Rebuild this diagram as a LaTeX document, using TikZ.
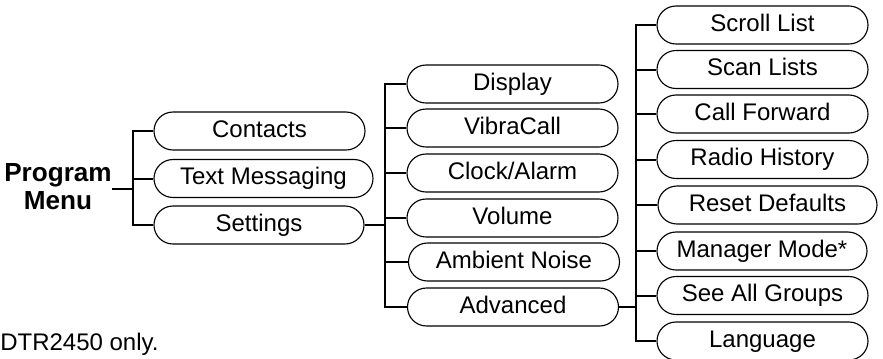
\documentclass[tikz,border=0pt]{standalone}
\usepackage{fontspec}
\setmainfont{Liberation Sans}
\newfontfamily\boxfam{Liberation Sans}
\begin{document}
\begin{tikzpicture}[x=0.75pt,y=-0.75pt,
  pill/.style={draw, line width=0.85pt, rounded corners=14.25pt,
    minimum height=28.5pt, minimum width=#1*0.75pt, inner sep=0pt,
    font=\boxfam\fontsize{18}{20}\selectfont, text height=14.3pt, text depth=4.6pt},
  conn/.style={line width=1.5pt},
  plain/.style={inner sep=0pt}]
\useasboundingbox (0,0) rectangle (883,358);
% level 0
\node[plain, align=center, font=\bfseries\fontsize{19.6}{21}\selectfont] (pm) at (58,187) {Program\\Menu};
% level 1
\node[pill=211] (contacts) at (259.5,131) {Contacts};
\node[pill=219] (textmsg) at (263.5,178.5) {Text Messaging};
\node[pill=210] (settings) at (259,225) {Settings};
% level 2
\node[pill=211] (display) at (512.5,84) {Display};
\node[pill=211] (vibra) at (512.5,128) {VibraCall};
\node[pill=211] (clock) at (512.5,173) {Clock/Alarm};
\node[pill=211] (volume) at (512.5,218) {Volume};
\node[pill=211] (ambient) at (514,262) {Ambient Noise};
\node[pill=211] (advanced) at (513,307) {Advanced};
% level 3
\node[pill=211] (scroll) at (762.5,25) {Scroll List};
\node[pill=211] (scan) at (762.5,69.5) {Scan Lists};
\node[pill=211] (callfwd) at (762.5,114) {Call Forward};
\node[pill=211] (radio) at (762.5,159.5) {Radio History};
\node[pill=219] (reset) at (767.5,205) {Reset Defaults};
\node[pill=210] (manager) at (762,251) {Manager Mode*};
\node[pill=211] (seeall) at (762.5,295.5) {See All Groups};
\node[pill=211] (language) at (762.5,341) {Language};
% footnote
\node[plain, anchor=base west, font=\fontsize{18}{20}\selectfont] (note) at (0,350) {DTR2450 only.};
% bars
\coordinate (bar1) at (133,189);
\coordinate (bar2) at (385,226);
\coordinate (bar3) at (636,307);
\draw[conn] (pm.east |- bar1) -- (bar1);
\draw[conn] (contacts.west) -- (contacts.west -| bar1) -- (settings.west -| bar1) -- (settings.west);
\draw[conn] (textmsg.west) -- (textmsg.west -| bar1);
\draw[conn] (settings.east) -- (settings.east -| bar2);
\draw[conn] (display.west) -- (display.west -| bar2) -- (advanced.west -| bar2) -- (advanced.west);
\foreach \n in {vibra,clock,volume,ambient} \draw[conn] (\n.west) -- (\n.west -| bar2);
\draw[conn] (advanced.east) -- (advanced.east -| bar3);
\draw[conn] (scroll.west) -- (scroll.west -| bar3) -- (language.west -| bar3) -- (language.west);
\foreach \n in {scan,callfwd,radio,reset,manager,seeall} \draw[conn] (\n.west) -- (\n.west -| bar3);
\end{tikzpicture}
\end{document}
